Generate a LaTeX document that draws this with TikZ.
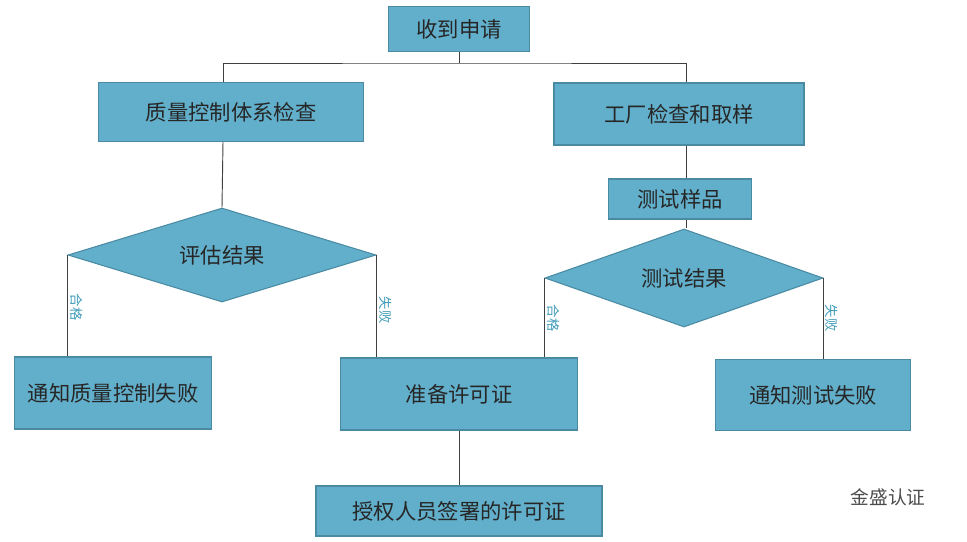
\documentclass[tikz,border=0pt]{standalone}
\usepackage{fontspec}
\newfontfamily\cjk{Noto Sans CJK SC}
\usetikzlibrary{shapes.geometric}
\definecolor{boxfill}{HTML}{62AFCB}
\definecolor{boxline}{HTML}{4A8BA3}
\definecolor{lbl}{HTML}{3F9BB8}
\tikzset{
  flowbox/.style = {draw=boxline, fill=boxfill, line width=0.8pt, inner sep=0pt,
    font=\cjk\fontsize{16}{18}\selectfont, text=black!85},
  decide/.style = {diamond, draw=boxline, fill=boxfill, line width=0.8pt, inner sep=0pt,
    font=\cjk\fontsize{16}{18}\selectfont, text=black!85},
  branch/.style = {font=\cjk\fontsize{10}{11}\selectfont, text=lbl, rotate=-90},
  link/.style = {draw=black!75, line width=0.7pt},
}
\begin{document}
\begin{tikzpicture} [x=0.75pt, y=-0.75pt]
	\useasboundingbox (0,0) rectangle (967,542);
	% top of the chart
	\node [flowbox, minimum width=141*0.75pt, minimum height=45*0.75pt] (recv) at (459,29) {收到申请};
	\node [flowbox, minimum width=265*0.75pt, minimum height=59*0.75pt] (qcheck) at (231,112) {质量控制体系检查};
	\node [flowbox, minimum width=250*0.75pt, minimum height=62*0.75pt] (fcheck) at (679,114) {工厂检查和取样};
	\node [flowbox, minimum width=143*0.75pt, minimum height=40*0.75pt] (sample) at (680,199) {测试样品};
	% decisions
	\node [decide, minimum width=308*0.75pt, minimum height=94*0.75pt, aspect=3.3] (evalres) at (222,255) {评估结果};
	\node [decide, minimum width=278*0.75pt, minimum height=98*0.75pt, aspect=2.8] (testres) at (684,278) {测试结果};
	% bottom boxes
	\node [flowbox, minimum width=197*0.75pt, minimum height=72*0.75pt] (qfail) at (113,393) {通知质量控制失败};
	\node [flowbox, minimum width=237*0.75pt, minimum height=72*0.75pt] (prep) at (459,394) {准备许可证};
	\node [flowbox, minimum width=195*0.75pt, minimum height=71*0.75pt] (tfail) at (813,395) {通知测试失败};
	\node [flowbox, minimum width=286*0.75pt, minimum height=50*0.75pt] (signed) at (459,511) {授权人员签署的许可证};
	% connectors
	\coordinate (split) at (459,63);
	\draw [link] (recv.south) -- (split);
	\draw [link] (qcheck.north -| 223,0) |- (split) -| (fcheck.north -| 686,0);
	\draw [link] (qcheck.south -| 223,0) -- (evalres.north);
	\draw [link] (fcheck.south -| 686,0) -- (sample.north -| 686,0);
	\draw [link] (sample.south -| 686,0) -- (testres.north -| 686,0);
	\draw [link] (evalres.west) -- (evalres.west |- qfail.north);
	\draw [link] (evalres.east) -- (evalres.east |- prep.north);
	\draw [link] (testres.west) -- (testres.west |- prep.north);
	\draw [link] (testres.east) -- (testres.east |- tfail.north);
	\draw [link] (prep.south) -- (signed.north);
	% branch labels
	\node [branch] (okl) at (77,307) {合格};
	\node [branch] (faill) at (386,310) {失败};
	\node [branch] (okr) at (554,318) {合格};
	\node [branch] (failr) at (832,318) {失败};
	% logo
	\node [font=\cjk\fontsize{14}{16}\selectfont, text=black!70] (logo) at (888,497) {金盛认证};
\end{tikzpicture}
\end{document}
